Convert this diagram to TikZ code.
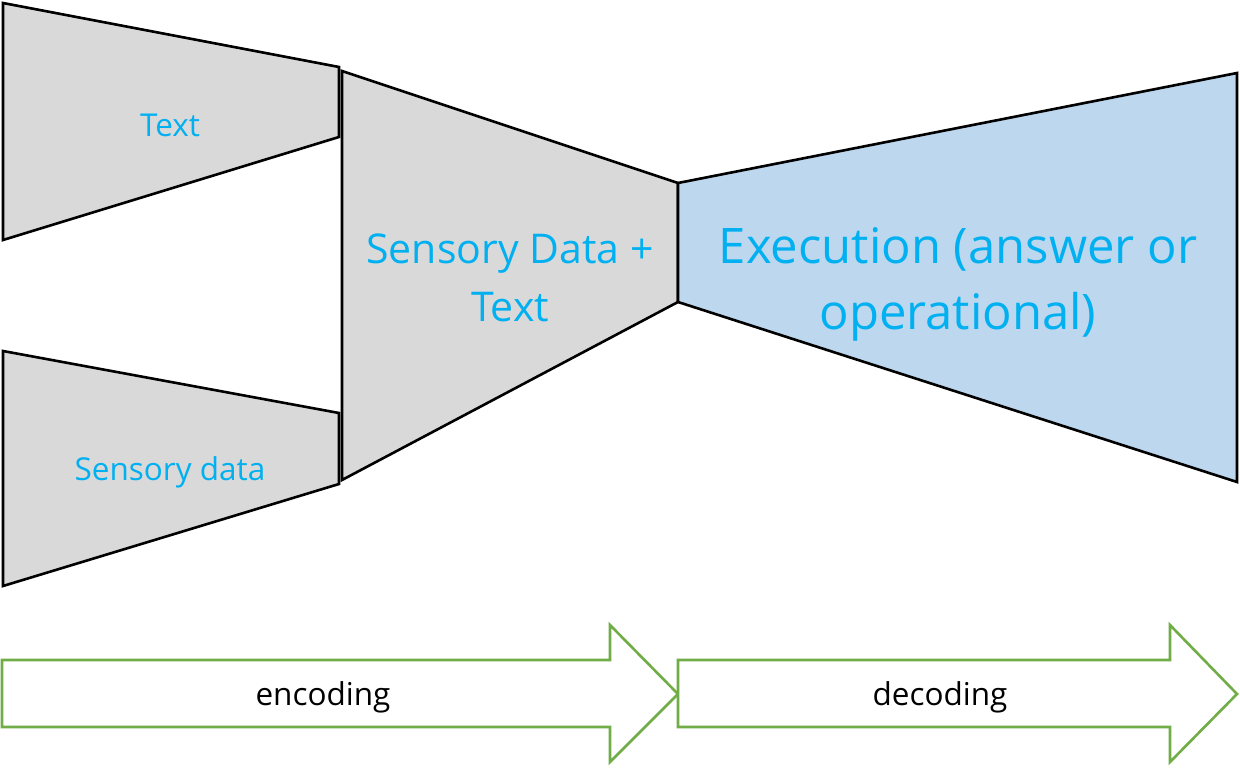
\documentclass[tikz,border=0pt]{standalone}
\usepackage{fontspec}
\setmainfont{Open Sans}
\definecolor{gfill}{HTML}{D9D9D9}
\definecolor{bfill}{HTML}{BDD7EE}
\definecolor{tcyan}{HTML}{00B0F0}
\definecolor{agreen}{HTML}{70AD47}
\tikzset{
  funnel/.style={draw=black, line width=2.6pt, line join=miter},
  garr/.style={draw=agreen, line width=2.6pt, fill=white, line join=miter},
  lbl/.style={text=tcyan, inner sep=0pt, align=center},
}
\begin{document}
\begin{tikzpicture}[x=1pt,y=-1pt]
\useasboundingbox (0,0) rectangle (1240,768);
% funnels
\draw[funnel, fill=gfill] (3,3) -- (339,67) -- (339,137) -- (3,240) -- cycle;
\draw[funnel, fill=gfill] (3,351) -- (339,413) -- (339,484) -- (3,586) -- cycle;
\draw[funnel, fill=gfill] (342,71) -- (678,183) -- (678,302) -- (342,480) -- cycle;
\draw[funnel, fill=bfill] (678,183) -- (1237,73) -- (1237,482) -- (678,302) -- cycle;
\node[lbl, font=\fontsize{31.5}{38}\selectfont] (t1) at (170,125) {Text};
\node[lbl, font=\fontsize{31.5}{38}\selectfont] (t2) at (170,472) {Sensory data};
\node[lbl, font=\fontsize{41}{58}\selectfont] (t3) at (510,278) {Sensory Data +\\Text};
\node[lbl, font=\fontsize{49}{66}\selectfont] (t4) at (958,284) {Execution (answer or\\operational)};
% arrows
\draw[garr] (2,660) -- (610,660) -- (610,625) -- (678,694) -- (610,762) -- (610,727) -- (2,727) -- cycle;
\draw[garr] (678,660) -- (1170,660) -- (1170,625) -- (1237,694) -- (1170,762) -- (1170,727) -- (678,727) -- cycle;
\node[inner sep=0pt, font=\fontsize{31.5}{38}\selectfont] (e) at (323,697) {encoding};
\node[inner sep=0pt, font=\fontsize{31.5}{38}\selectfont] (d) at (940,697) {decoding};
\end{tikzpicture}
\end{document}
